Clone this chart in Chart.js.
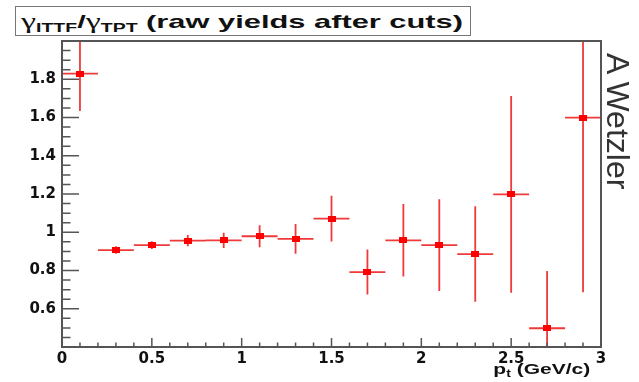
<!DOCTYPE html>
<html>
<head>
<meta charset="utf-8">
<script src="https://cdn.jsdelivr.net/npm/chart.js@4.4.0/dist/chart.umd.min.js"></script>
<style>
  html, body { margin: 0; padding: 0; background: #fff; }
  #wrap { position: relative; width: 639px; height: 382px; overflow: hidden; }
  #c { position: absolute; left: 0; top: 0; }
  #title {
    position: absolute; left: 15px; top: 6px; width: 456px; height: 30px;
    box-sizing: border-box; border: 1px solid #777; background: #fff;
  }
  #title .txt {
    position: absolute; left: 5px; top: 2px; white-space: nowrap;
    font: bold 19px "Liberation Sans", Arial, sans-serif; color: #111;
    transform-origin: left top;
  }
  #title .g { font: 21px "Liberation Serif", serif; }
  #title sub { font-size: 12px; vertical-align: -4px; line-height: 0; }
  #xtitle {
    position: absolute; right: 49px; top: 360px; white-space: nowrap;
    font: bold 15px "Liberation Sans", Arial, sans-serif; color: #111;
    transform: scaleX(1.4); transform-origin: right top;
  }
  #xtitle sub { font-size: 10px; vertical-align: -3px; line-height: 0; }
  #author {
    position: absolute; left: 599px; top: 53px;
    writing-mode: vertical-rl; line-height: 1;
    font: 32px "Liberation Sans", Arial, sans-serif; color: #333;
  }
</style>
</head>
<body>
<div id="wrap">
  <canvas id="c" width="639" height="382"></canvas>
  <div id="title"><span class="txt"><span class="g">γ</span><sub>ITTF</sub>/<span class="g">γ</span><sub>TPT</sub> (raw yields after cuts)</span></div>
  <div id="xtitle">p<sub>t</sub> (GeV/c)</div>
  <div id="author">A Wetzler</div>
</div>
<script>
// ratio of ITTF to TPT photon yields per pt bin
var pt = [0.1, 0.3, 0.5, 0.7, 0.9, 1.1, 1.3, 1.5, 1.7, 1.9, 2.1, 2.3, 2.5, 2.7, 2.9];
var ptErr = [0.1, 0.1, 0.1, 0.1, 0.1, 0.1, 0.1, 0.1, 0.1, 0.1, 0.1, 0.1, 0.1, 0.1, 0.1];
var ratio = [1.829, 0.907, 0.933, 0.956, 0.958, 0.979, 0.965, 1.071, 0.792, 0.958, 0.933, 0.886, 1.198, 0.498, 1.599];
var ratioErr = [0.195, 0.02, 0.02, 0.029, 0.04, 0.058, 0.078, 0.12, 0.118, 0.19, 0.24, 0.25, 0.514, 0.30, 0.913];

var xTicks = [0, 0.5, 1, 1.5, 2, 2.5, 3];
var yTicks = [0.6, 0.8, 1, 1.2, 1.4, 1.6, 1.8];

// fit the title text into the box like the original
window.addEventListener("load", function(){
    var t = document.querySelector("#title .txt");
    var w = t.getBoundingClientRect().width;
    t.style.transform = "scaleX(" + (442 / w) + ")";
    drawChart();
});

function tickLabel(list) {
    return function(v) {
        for (var i = 0; i < list.length; i++) {
            if (Math.abs(list[i] - v) < 1e-6) return String(list[i]);
        }
        return "";
    };
}

function isMajor(v, step) {
    return Math.abs(v / step - Math.round(v / step)) < 1e-6;
}

// ROOT style: ticks point into the frame, frame on all sides
var frameTicks = {
    id: "frameTicks",
    afterDraw: function(chart) {
        var ctx = chart.ctx, a = chart.chartArea;
        var x = chart.scales.x, y = chart.scales.y;
        ctx.save();
        ctx.strokeStyle = "#555";
        ctx.lineWidth = 1.5;
        ctx.beginPath();
        x.ticks.forEach(function(t) {
            var px = x.getPixelForValue(t.value);
            var len = isMajor(t.value, 0.5) ? 9 : 4.5;
            ctx.moveTo(px, a.bottom);
            ctx.lineTo(px, a.bottom - len);
        });
        y.ticks.forEach(function(t) {
            var py = y.getPixelForValue(t.value);
            var len = isMajor(t.value, 0.2) ? 17 : 8.5;
            ctx.moveTo(a.left, py);
            ctx.lineTo(a.left + len, py);
        });
        ctx.stroke();
        ctx.lineWidth = 2;
        ctx.strokeRect(a.left, a.top, a.right - a.left, a.bottom - a.top);
        ctx.restore();
    }
};

function drawChart() {
    var marker = document.createElement("canvas");
    marker.width = 8;
    marker.height = 6;
    var mctx = marker.getContext("2d");
    mctx.fillStyle = "#ff0000";
    mctx.fillRect(0, 0, 8, 6);

    var points = [];
    var bars = [];
    for (var i = 0; i < pt.length; i++) {
        points.push({x: pt[i], y: ratio[i]});
        bars.push({x: pt[i], y: ratio[i] - ratioErr[i]});
        bars.push({x: pt[i], y: ratio[i] + ratioErr[i]});
        bars.push({x: pt[i], y: null});
        bars.push({x: pt[i] - ptErr[i], y: ratio[i]});
        bars.push({x: pt[i] + ptErr[i], y: ratio[i]});
        bars.push({x: pt[i] + ptErr[i], y: null});
    }

    Chart.defaults.font.family = "'DejaVu Sans', sans-serif";
    Chart.defaults.font.weight = "bold";
    Chart.defaults.font.size = 15;
    Chart.defaults.color = "#111";

    new Chart(document.getElementById("c").getContext("2d"), {
        type: "scatter",
        data: {
            datasets: [{
                label: "ratio",
                data: points,
                pointStyle: marker,
                pointRadius: 4,
                pointHoverRadius: 4
            }, {
                label: "errors",
                data: bars,
                showLine: true,
                spanGaps: false,
                borderColor: "#ee3a3a",
                borderWidth: 1.8,
                pointRadius: 0,
                pointHoverRadius: 0
            }]
        },
        options: {
            responsive: false,
            animation: false,
            devicePixelRatio: 1,
            layout: { padding: { left: 0, top: 41, right: 38, bottom: 0 } },
            plugins: {
                legend: { display: false },
                tooltip: { enabled: false }
            },
            scales: {
                x: {
                    type: "linear",
                    min: 0,
                    max: 3,
                    grid: { display: false, drawTicks: false },
                    border: { display: false },
                    ticks: {
                        stepSize: 0.1,
                        autoSkip: false,
                        maxRotation: 0,
                        padding: 3,
                        callback: tickLabel(xTicks)
                    },
                    afterFit: function(s) { s.height = 35; }
                },
                y: {
                    type: "linear",
                    min: 0.4,
                    max: 2.0,
                    grid: { display: false, drawTicks: false },
                    border: { display: false },
                    ticks: {
                        stepSize: 0.05,
                        autoSkip: false,
                        padding: 6,
                        callback: tickLabel(yTicks)
                    },
                    afterFit: function(s) { s.width = 62; }
                }
            }
        },
        plugins: [frameTicks]
    });
}
</script>
</body>
</html>
